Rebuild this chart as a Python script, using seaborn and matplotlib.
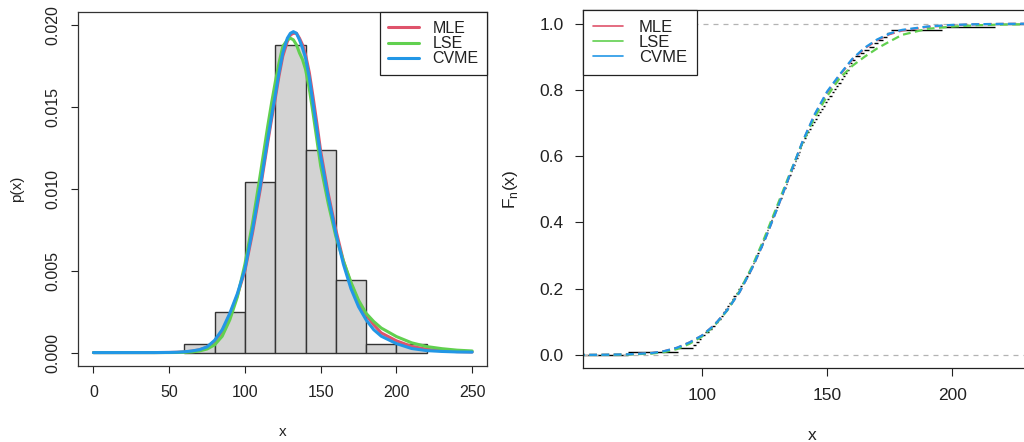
import numpy as np
import matplotlib
matplotlib.use("Agg")
import matplotlib.pyplot as plt
from matplotlib.lines import Line2D
import seaborn as sns

obs = [70.5, 90.5, 96.4, 97.6, 98.7, 99.5,
       101.2, 102.6, 104.0, 105.1, 106.3, 107.4, 108.2, 109.0, 110.1, 110.9, 111.8,
       112.5, 113.6, 114.4, 115.1, 116.0, 116.9, 117.5, 118.2, 119.0, 119.7,
       120.4, 120.9, 121.5, 122.0, 122.6, 123.2, 123.8, 124.3, 124.9, 125.4, 125.9,
       126.5, 127.1, 127.6, 128.0, 128.5, 129.1, 129.6, 130.2, 130.7, 131.2, 131.8,
       132.3, 132.9, 133.5, 134.0, 134.4, 134.9, 135.5, 136.1, 136.6, 137.1, 137.6,
       138.2, 138.7, 139.2, 139.6, 139.9,
       140.6, 141.4, 142.1, 142.9, 143.6, 144.4, 145.1, 145.9, 146.7, 147.5, 148.3,
       149.1, 150.0, 150.9, 151.8, 152.7, 153.6, 154.5, 155.4, 156.3, 157.2, 158.0,
       158.7, 159.3, 159.8,
       161.2, 163.0, 164.9, 166.8, 168.6, 170.5, 172.3, 174.0, 175.6,
       195.8, 217.0]
bin_edges = [60, 80, 100, 120, 140, 160, 180, 200, 220]

x_pdf = [0, 40, 50, 55, 60, 65, 70, 75, 80, 85, 90, 95, 100, 105, 110, 115, 117.5, 120,
         122.5, 125, 128, 130, 132, 134, 136, 138, 140, 142.5, 145, 147.5, 150, 155, 160,
         165, 170, 175, 180, 185, 190, 200, 210, 220, 230, 240, 250]
pdf_mle = [0, 0.000002, 0.00001, 0.00002, 0.00004, 0.00009, 0.00017, 0.00033, 0.0007,
           0.0013, 0.0023, 0.0035, 0.0050, 0.0073, 0.0099, 0.0128, 0.0142, 0.0155,
           0.0169, 0.0181, 0.0190, 0.0194, 0.0195, 0.0195, 0.0192, 0.0188, 0.0182,
           0.0171, 0.0156, 0.0140, 0.0123, 0.0097, 0.0075, 0.0056, 0.0042, 0.0031,
           0.0023, 0.0017, 0.0012, 0.00072, 0.00038, 0.0002, 0.00011, 0.00006, 0.00004]
pdf_lse = [0, 0, 0.000003, 0.000007, 0.000015, 0.00004, 0.0001, 0.00022, 0.00047,
           0.0010, 0.0020, 0.0034, 0.0054, 0.0079, 0.0108, 0.0138, 0.0152, 0.0165,
           0.0177, 0.0187, 0.0191, 0.0192, 0.0191, 0.0188, 0.0183, 0.0179, 0.0173,
           0.0161, 0.0146, 0.0130, 0.0114, 0.0091, 0.0071, 0.0056, 0.0043, 0.0032,
           0.0024, 0.0019, 0.0015, 0.00098, 0.0006, 0.00037, 0.00024, 0.00015, 0.0001]
pdf_cvme = [0, 0.000002, 0.00001, 0.00002, 0.00005, 0.0001, 0.00018, 0.00035, 0.00075,
            0.0014, 0.0024, 0.0036, 0.0051, 0.0075, 0.0101, 0.0130, 0.0144, 0.0157,
            0.0171, 0.0183, 0.0192, 0.0195, 0.0196, 0.0195, 0.0191, 0.0186, 0.0180,
            0.0168, 0.0152, 0.0136, 0.0120, 0.0095, 0.0073, 0.0054, 0.0039, 0.0028,
            0.0020, 0.0014, 0.0010, 0.00055, 0.00025, 0.00012, 0.00007, 0.00004, 0.00003]

x_cdf = [50, 60, 70, 80, 85, 90, 95, 100, 105, 110, 115, 120, 125, 130, 135, 140, 145,
         150, 155, 160, 165, 170, 175, 180, 190, 200, 210, 220, 230, 240]
cdf_mle = [0.0003, 0.0008, 0.002, 0.006, 0.012, 0.022, 0.038, 0.059, 0.091, 0.135,
           0.190, 0.262, 0.346, 0.441, 0.541, 0.640, 0.724, 0.792, 0.844, 0.891,
           0.925, 0.950, 0.968, 0.979, 0.990, 0.995, 0.998, 0.999, 0.9995, 1.0]
cdf_lse = [0.0001, 0.0004, 0.0013, 0.0045, 0.009, 0.018, 0.034, 0.056, 0.089, 0.134,
           0.193, 0.267, 0.355, 0.450, 0.546, 0.638, 0.717, 0.781, 0.835, 0.872,
           0.900, 0.925, 0.946, 0.966, 0.984, 0.991, 0.995, 0.997, 0.998, 0.999]
cdf_cvme = [0.0003, 0.0008, 0.002, 0.006, 0.012, 0.022, 0.038, 0.059, 0.091, 0.135,
            0.190, 0.262, 0.346, 0.441, 0.542, 0.641, 0.726, 0.795, 0.846, 0.893,
            0.927, 0.952, 0.970, 0.981, 0.991, 0.996, 0.998, 0.999, 0.9995, 1.0]

labels = ["MLE", "LSE", "CVME"]
colors = ["#DF536B", "#61D04F", "#2297E6"]

sns.set_style("ticks")
plt.rcParams["font.family"] = ["Liberation Sans", "DejaVu Sans"]
plt.rcParams["text.color"] = "#222222"
plt.rcParams["axes.labelcolor"] = "#222222"
plt.rcParams["xtick.color"] = "#222222"
plt.rcParams["ytick.color"] = "#222222"

fig = plt.figure(figsize=(10.24, 4.42), dpi=100)
ax1 = fig.add_axes([78.3 / 1024, 1 - 365.7 / 442, 409 / 1024, 353.7 / 442])
ax2 = fig.add_axes([583 / 1024, 1 - 368.3 / 442, 458 / 1024, 358 / 442])

# --- pannello sinistro: istogramma + densita'
sns.histplot(x=obs, bins=bin_edges, stat="density", color="#d3d3d3", edgecolor="#333333",
             linewidth=1.0, alpha=1, ax=ax1)
for yv, lab, col in zip([pdf_mle, pdf_lse, pdf_cvme], labels, colors):
    sns.lineplot(x=x_pdf, y=yv, color=col, lw=2.2, label=lab, ax=ax1)
ax1.set_xlim(-10, 260)
ax1.set_ylim(-0.0008, 0.0208)
ax1.set_xticks([0, 50, 100, 150, 200, 250])
ax1.set_yticks([0, 0.005, 0.010, 0.015, 0.020])
ax1.set_yticklabels(["0.000", "0.005", "0.010", "0.015", "0.020"])
ax1.tick_params(axis="y", labelrotation=90, labelsize=11.5, length=5, width=0.8, pad=8)
ax1.tick_params(axis="x", labelsize=11.5, length=5, width=0.8, pad=9)
for lab in ax1.get_yticklabels():
    lab.set_va("center")
ax1.set_xlabel("x", fontsize=11, labelpad=18)
ax1.set_ylabel("p(x)", fontsize=11, labelpad=15)
for s in ax1.spines.values():
    s.set_color("#333333")
    s.set_linewidth(0.9)
leg1 = ax1.legend(loc="upper right", borderaxespad=0, fontsize=11.5, frameon=True,
                  fancybox=False, framealpha=1, edgecolor="#222222", borderpad=0.55,
                  labelspacing=0.02, handlelength=1.9, handletextpad=0.85)
leg1.get_frame().set_linewidth(0.9)

# --- pannello destro: ECDF + funzioni di ripartizione
xs = np.sort(obs)
n = len(xs)
xl, xr = 52.4, 235.5
ax2.hlines([0], xl, xs[0], color="black", lw=1)
ax2.hlines(np.arange(1, n) / n, xs[:-1], xs[1:], color="black", lw=1)
ax2.hlines([1], xs[-1], xr, color="black", lw=1)
ax2.axhline(0, color="#b3b3b3", ls=(0, (4, 4)), lw=0.9)
ax2.axhline(1, color="#b3b3b3", ls=(0, (4, 4)), lw=0.9)
for yv, col in zip([cdf_mle, cdf_lse, cdf_cvme], colors):
    sns.lineplot(x=x_cdf, y=yv, color=col, lw=1.6, ax=ax2)
    ax2.lines[-1].set_dashes((3.5, 2))
ax2.set_xlim(xl, xr)
ax2.set_ylim(-0.04, 1.04)
ax2.set_xticks([100, 150, 200])
ax2.set_yticks([0, 0.2, 0.4, 0.6, 0.8, 1.0])
ax2.set_yticklabels(["0.0", "0.2", "0.4", "0.6", "0.8", "1.0"])
ax2.tick_params(axis="both", labelsize=12.5, length=6, width=0.8, pad=8)
ax2.set_xlabel("x", fontsize=12.5, labelpad=18)
ax2.set_ylabel(r"F$_\mathregular{n}$(x)", fontsize=12.5, labelpad=14)
for s in ax2.spines.values():
    s.set_color("#222222")
    s.set_linewidth(0.9)
handles = [Line2D([0], [0], color=c, lw=1.2) for c in colors]
leg2 = ax2.legend(handles, labels, loc="upper left", borderaxespad=0, fontsize=12,
                  frameon=True, fancybox=False, framealpha=1, edgecolor="#222222",
                  borderpad=0.6, labelspacing=0.0, handlelength=1.8, handletextpad=0.95)
leg2.get_frame().set_linewidth(0.9)

fig.savefig("out.png", dpi=100)
